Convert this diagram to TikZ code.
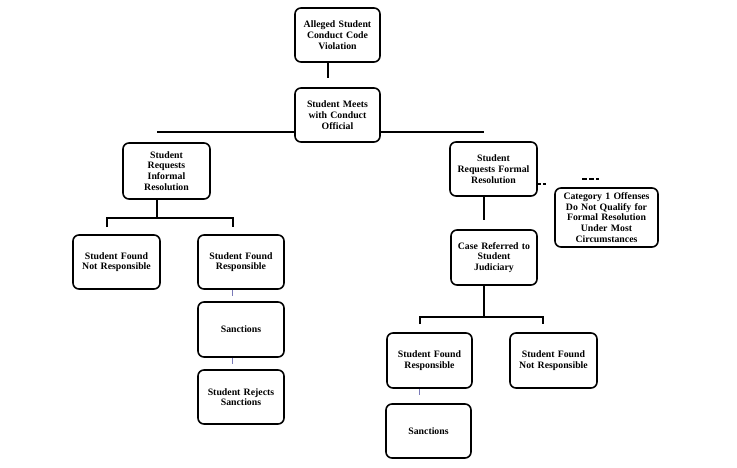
\documentclass[tikz,border=0pt]{standalone}
\usepackage{fontspec}
\setmainfont{Liberation Serif}
\begin{document}
\begin{tikzpicture}[x=1pt,y=-1pt,
  box/.style={draw=black,line width=1.6pt,rounded corners=6pt,fill=white,align=center,
    font=\bfseries\fontsize{9.8}{10.7}\selectfont,inner sep=1pt},
  conn/.style={line width=1.6pt,draw=black},
  faint/.style={line width=0.9pt,draw=blue!30!gray!80}]
\useasboundingbox (0,0) rectangle (737,467);
\fill[white] (0,0) rectangle (737,467);
% connectors behind boxes
\coordinate (hl) at (157,132);
\coordinate (hr) at (484,132);
\draw[conn] (hl) -- (hr);
\node[box,minimum width=85pt,minimum height=54pt,text width=80pt] (A) at (337.5,35) {Alleged Student\\Conduct Code\\Violation};
\node[box,minimum width=85pt,minimum height=54pt,text width=80pt] (B) at (337.5,115) {Student Meets\\with Conduct\\Official};
\node[box,minimum width=87pt,minimum height=56pt,text width=80pt] (C) at (166.5,171) {Student\\Requests\\Informal\\Resolution};
\node[box,minimum width=87pt,minimum height=54pt,text width=82pt] (D) at (493.5,169) {Student\\Requests Formal\\Resolution};
\node[box,minimum width=103pt,minimum height=59pt,text width=98pt] (E) at (606.5,217.5) {Category 1 Offenses\\Do Not Qualify for\\Formal Resolution\\Under Most\\Circumstances};
\node[box,minimum width=86pt,minimum height=55pt,text width=82pt] (F) at (494,257.5) {Case Referred to\\Student\\Judiciary};
\node[box,minimum width=87pt,minimum height=54pt,text width=82pt] (G) at (116.5,262) {Student Found\\Not Responsible};
\node[box,minimum width=86pt,minimum height=54pt,text width=82pt] (H) at (241,262) {Student Found\\Responsible};
\node[box,minimum width=86pt,minimum height=55pt,text width=82pt] (I) at (241,329.5) {Sanctions};
\node[box,minimum width=86pt,minimum height=54pt,text width=82pt] (J) at (241,397) {Student Rejects\\Sanctions};
\node[box,minimum width=85pt,minimum height=55pt,text width=82pt] (K) at (429.5,360.5) {Student Found\\Responsible};
\node[box,minimum width=87pt,minimum height=55pt,text width=82pt] (L) at (553.5,360.5) {Student Found\\Not Responsible};
\node[box,minimum width=85pt,minimum height=54pt,text width=82pt] (M) at (428.5,431) {Sanctions};
% top connector
\coordinate (a1) at (328,78);
\draw[conn] (A.south -| a1) -- (a1);
% informal branch
\coordinate (c1) at (157,218);
\coordinate (cl) at (107,218);
\coordinate (cr) at (233,218);
\draw[conn] (C.south -| c1) -- (c1);
\draw[conn] (107,227) -- (cl) -- (cr) -- (233,227);
\draw[faint] (H.south -| 232,0) -- (232,296);
\draw[faint] (I.south -| 232,0) -- (232,364);
% formal branch
\draw[conn] (D.south -| 484,0) -- (484,220);
\coordinate (fl) at (420,317);
\coordinate (fr) at (543,317);
\draw[conn] (F.south -| 484,0) -- (484,317);
\draw[conn] (420,324) -- (fl) -- (fr) -- (543,324);
\draw[faint] (K.south -| 419,0) -- (419,395);
% dashed
\draw[line width=1.2pt,dash pattern=on 3pt off 2pt] (D.east |- 0,184) -- (546,184);
\draw[line width=1.2pt,dash pattern=on 5pt off 2pt] (582,179) -- (599,179);
\end{tikzpicture}
\end{document}
